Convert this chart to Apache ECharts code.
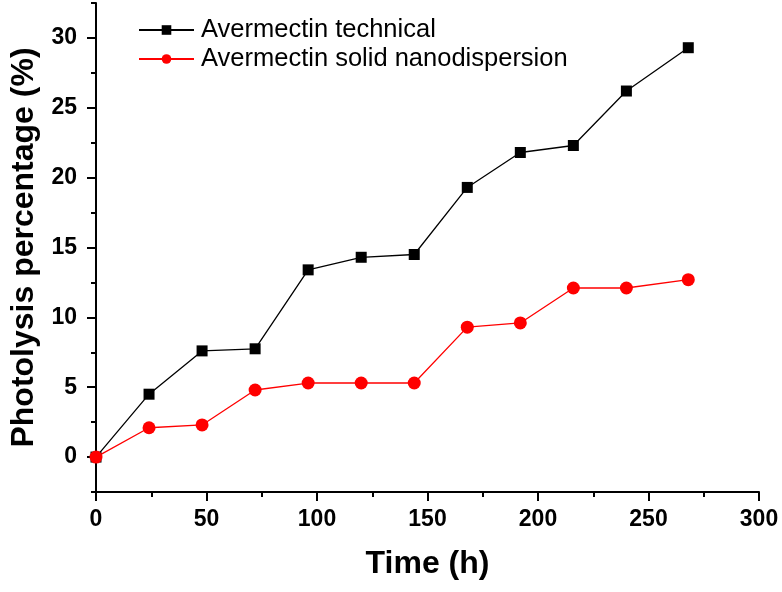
<!DOCTYPE html>
<html>
<head>
<meta charset="utf-8">
<script src="https://cdn.jsdelivr.net/npm/echarts@6/dist/echarts.min.js"></script>
<style>
    html, body { margin: 0; padding: 0; background: #fff; }
    #chart { width: 782px; height: 592px; }
</style>
</head>
<body>
<div id="chart"></div>
<script>
// 时间点 (h)
var timeHours = [0, 24, 48, 72, 96, 120, 144, 168, 192, 216, 240, 268];
// 原药
var technical = [0, 4.5, 7.6, 7.75, 13.4, 14.3, 14.5, 19.3, 21.8, 22.3, 26.2, 29.3];
// 固体纳米分散体
var nanodispersion = [0, 2.1, 2.3, 4.8, 5.3, 5.3, 5.3, 9.3, 9.6, 12.1, 12.1, 12.7];
var yMajorTicks = [0, 5, 10, 15, 20, 25, 30];
var seriesNames = ['Avermectin technical', 'Avermectin solid nanodispersion'];

function pairUp(xs, ys) {
    var out = [];
    xs.forEach(function (v, i) {
        out.push([v, ys[i]]);
    });
    return out;
}

var fontName = 'Liberation Sans, Arial, sans-serif';
var dom = document.getElementById("chart");
var myChart = echarts.init(dom);
var option = {
    animation: false,
    backgroundColor: '#fff',
    grid: {
        left: 95,
        right: 23,
        top: 3,
        bottom: 100
    },
    legend: {
        orient: 'vertical',
        left: 133,
        top: 12,
        itemWidth: 55,
        itemHeight: 12,
        itemGap: 3,
        textStyle: {
            fontFamily: fontName,
            fontSize: 25.5,
            color: '#000',
            padding: [0, 0, 0, 2]
        },
        data: seriesNames
    },
    xAxis: {
        type: 'value',
        min: 0,
        max: 300,
        interval: 50,
        name: 'Time (h)',
        nameLocation: 'middle',
        nameGap: 56,
        nameTextStyle: {
            fontFamily: fontName,
            fontSize: 32,
            fontWeight: 'bold',
            color: '#000'
        },
        axisLine: { onZero: false, lineStyle: { color: '#000', width: 2 } },
        axisTick: { length: 9, lineStyle: { color: '#000', width: 2 } },
        minorTick: { show: true, splitNumber: 2, length: 5, lineStyle: { color: '#000', width: 2 } },
        axisLabel: {
            margin: 16,
            fontFamily: fontName,
            fontSize: 23,
            fontWeight: 'bold',
            color: '#000'
        },
        splitLine: { show: false },
        minorSplitLine: { show: false }
    },
    yAxis: [
        {
            type: 'value',
            min: -2.5,
            max: 32.5,
            name: 'Photolysis percentage (%)',
            nameLocation: 'middle',
            nameGap: 56,
            nameTextStyle: {
                fontFamily: fontName,
                fontSize: 32,
                fontWeight: 'bold',
                color: '#000'
            },
            axisLine: { show: true, onZero: false, lineStyle: { color: '#000', width: 2 } },
            axisTick: { show: true, length: 9, customValues: yMajorTicks, lineStyle: { color: '#000', width: 2 } },
            axisLabel: {
                margin: 19,
                customValues: yMajorTicks,
                fontFamily: fontName,
                fontSize: 23,
                fontWeight: 'bold',
                color: '#000'
            },
            splitLine: { show: false }
        },
        {
            // 次刻度
            type: 'value',
            position: 'left',
            min: -2.5,
            max: 32.5,
            interval: 2.5,
            axisLine: { show: false, onZero: false },
            axisTick: { show: true, length: 5, lineStyle: { color: '#000', width: 2 } },
            axisLabel: { show: false },
            splitLine: { show: false }
        }
    ],
    series: [
        {
            name: seriesNames[0],
            type: 'line',
            yAxisIndex: 0,
            symbol: 'rect',
            symbolSize: 11,
            color: '#000',
            lineStyle: { color: '#000', width: 1.3 },
            itemStyle: { color: '#000' },
            data: pairUp(timeHours, technical)
        },
        {
            name: seriesNames[1],
            type: 'line',
            yAxisIndex: 0,
            symbol: 'circle',
            symbolSize: 13,
            color: '#ff0000',
            lineStyle: { color: '#ff0000', width: 1.3 },
            itemStyle: { color: '#ff0000' },
            data: pairUp(timeHours, nanodispersion)
        }
    ]
};
myChart.setOption(option, true);
</script>
</body>
</html>
